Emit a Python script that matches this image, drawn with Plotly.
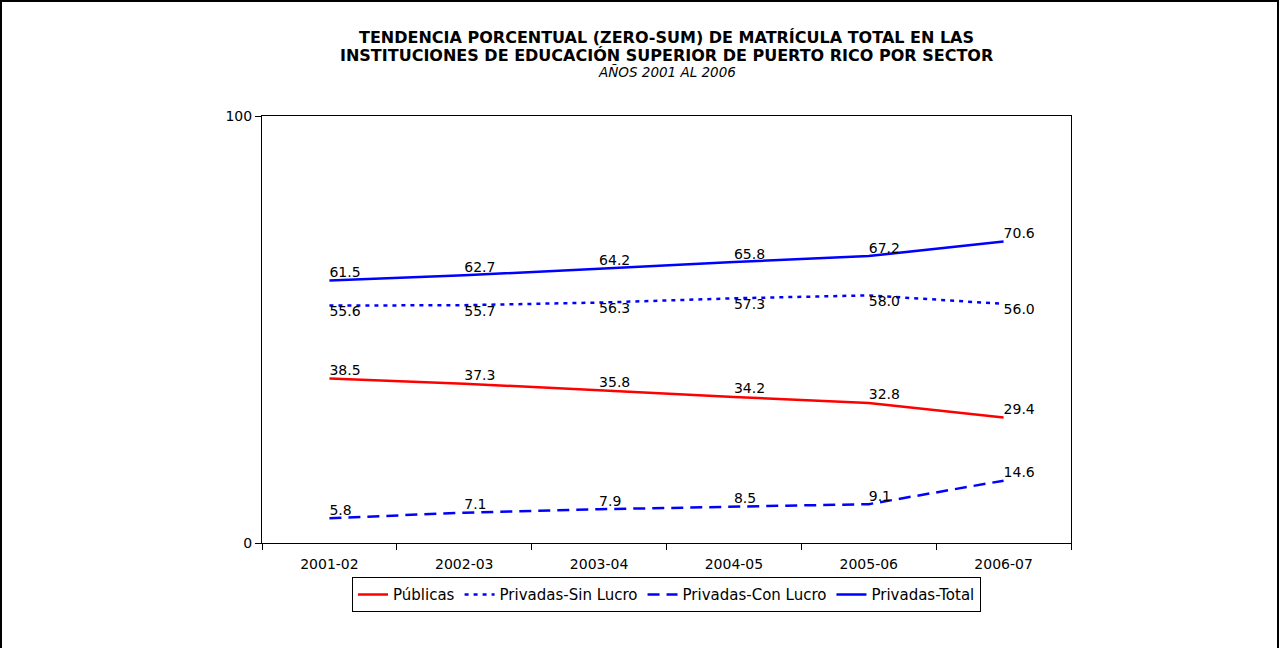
import plotly.graph_objects as go

anios = ['2001-02', '2002-03', '2003-04', '2004-05', '2005-06', '2006-07']
publicas = [38.5, 37.3, 35.8, 34.2, 32.8, 29.4]
sin_lucro = [55.6, 55.7, 56.3, 57.3, 58.0, 56.0]
con_lucro = [5.8, 7.1, 7.9, 8.5, 9.1, 14.6]
priv_total = [61.5, 62.7, 64.2, 65.8, 67.2, 70.6]

font = 'DejaVu Sans, Verdana, sans-serif'

fig = go.Figure()

# name, values, color, dash, label position
series = [
    ('Públicas', publicas, '#FF0000', 'solid', 'top right'),
    ('Privadas-Sin Lucro', sin_lucro, '#0000FF', '4px,5px', 'bottom right'),
    ('Privadas-Con Lucro', con_lucro, '#0000FF', '12px,7px', 'top right'),
    ('Privadas-Total', priv_total, '#0000FF', 'solid', 'top right'),
]
for name, vals, color, dash, pos in series:
    fig.add_trace(go.Scatter(
        x=anios, y=vals, name=name, mode='lines+text',
        line=dict(color=color, width=2.5, dash=dash),
        text=[f'{v:.1f}' for v in vals], textposition=pos,
        textfont=dict(family=font, size=14, color='black'),
        cliponaxis=False,
    ))

# title lines placed one by one (plot area is 427px tall, bottom at 543px)
titulos = [
    ('<b>TENDENCIA PORCENTUAL (ZERO-SUM) DE MATRÍCULA TOTAL EN LAS</b>', 37, 16),
    ('<b>INSTITUCIONES DE EDUCACIÓN SUPERIOR DE PUERTO RICO POR SECTOR</b>', 55, 16),
    ('<i>AÑOS 2001 AL 2006</i>', 72, 13.5),
]
for txt, ypix, size in titulos:
    fig.add_annotation(
        text=txt, xref='paper', yref='paper', x=0.5, xanchor='center',
        y=(543 - ypix) / 427, yanchor='middle', showarrow=False,
        font=dict(family=font, size=size, color='black'),
    )

fig.update_layout(
    width=1279, height=648,
    paper_bgcolor='white', plot_bgcolor='white',
    margin=dict(l=262, r=208, t=116, b=105),
    xaxis=dict(
        type='category', range=[-0.5, 5.5], tickson='boundaries', ticks='outside',
        ticklen=6, tickcolor='black', showline=True, linecolor='black', linewidth=1,
        mirror=True, showgrid=False, ticklabelstandoff=8,
        tickfont=dict(family=font, size=14, color='black'),
    ),
    yaxis=dict(
        range=[0, 100], tickvals=[0, 100], ticks='outside', ticklen=6,
        tickcolor='black', showline=True, linecolor='black', linewidth=1,
        mirror=True, showgrid=False, zeroline=False,
        tickfont=dict(family=font, size=14, color='black'),
    ),
    legend=dict(
        orientation='h', x=0.5, xanchor='center', y=-0.08, yanchor='top',
        bordercolor='black', borderwidth=1, bgcolor='white',
        font=dict(family=font, size=15, color='black'),
        itemwidth=30, tracegroupgap=0,
    ),
    shapes=[dict(type='rect', xref='paper', yref='paper',
                 x0=-261/809, x1=1 + 207/809, y0=-120/427, y1=1 + 115/427,
                 line=dict(color='black', width=2))],
    showlegend=True,
)

fig.write_html('out.html', config={'displayModeBar': False},
               post_script="document.body.style.margin='0';")
